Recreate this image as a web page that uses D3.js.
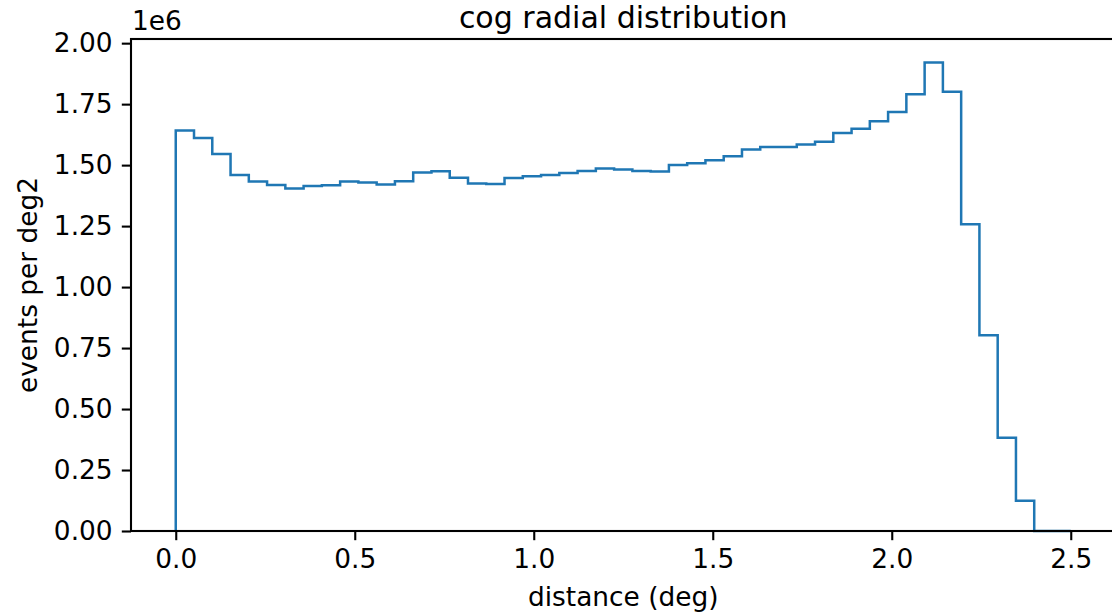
<!DOCTYPE html>
<html>
<head>
<meta charset="utf-8">
<script src="https://cdn.jsdelivr.net/npm/d3@7"></script>
<style>
  html, body { margin: 0; padding: 0; background: #fff; }
  svg { display: block; }
  text { font-family: "DejaVu Sans", sans-serif; fill: #000; }
</style>
</head>
<body>
<svg id="chart" width="1112" height="613"></svg>
<script>
// ---- data ----
const binRange = [0, 2.5];     // histogram range (deg)
const binCount = 49;           // number of bins
const counts = [
  1642000, 1611000, 1546000, 1459000, 1433000, 1418000, 1404000, 1414000, 1417000, 1433000,
  1429000, 1421000, 1434000, 1470000, 1475000, 1448000, 1425000, 1423000, 1447000, 1454000,
  1460000, 1468000, 1476000, 1486000, 1482000, 1476000, 1474000, 1500000, 1508000, 1520000,
  1536000, 1564000, 1574000, 1574000, 1585000, 1596000, 1632000, 1649000, 1680000, 1718000,
  1791000, 1921000, 1801000, 1258000, 803000, 382000, 124000, 0, 0
];
const xTicks = [0, 0.5, 1.0, 1.5, 2.0, 2.5];
const yTicks = [0, 250000, 500000, 750000, 1000000, 1250000, 1500000, 1750000, 2000000];
const titleText = "cog radial distribution";
const xLabelText = "distance (deg)";
const yLabelText = "events per deg2";
const offsetText = "1e6";

// ---- layout ----
const L = 131, R = 1115.5, T = 39, B = 531;
const FS = 26.4;      // 10pt
const tickLen = 9.2, tickPad = 9.2;

const svg = d3.select("#chart");

const edges = d3.range(binCount + 1).map(i => binRange[0] + (binRange[1] - binRange[0]) * i / binCount);
const xPad = (binRange[1] - binRange[0]) * 0.05;
const x = d3.scaleLinear().domain([binRange[0] - xPad, binRange[1] + xPad]).range([L, R]);
const yMax = d3.max(counts) * 1.05;
const y = d3.scaleLinear().domain([0, yMax]).range([B, T]);

// step outline
const pts = [[edges[0], 0]];
counts.forEach((c, i) => { pts.push([edges[i], c]); pts.push([edges[i + 1], c]); });
pts.push([edges[binCount], 0]);
svg.append("path")
  .attr("d", d3.line().x(d => x(d[0])).y(d => y(d[1]))(pts))
  .attr("fill", "none")
  .attr("stroke", "#1f77b4")
  .attr("stroke-width", 2.5)
  .attr("stroke-linejoin", "miter");

// axes
const xAxis = d3.axisBottom(x).tickValues(xTicks).tickFormat(d => d.toFixed(1))
  .tickSize(tickLen).tickSizeOuter(0).tickPadding(tickPad);
const gx = svg.append("g").attr("transform", `translate(0,${B})`).call(xAxis);
const yAxis = d3.axisLeft(y).tickValues(yTicks).tickFormat(d => (d / 1e6).toFixed(2))
  .tickSize(tickLen).tickSizeOuter(0).tickPadding(tickPad);
const gy = svg.append("g").attr("transform", `translate(${L},0)`).call(yAxis);
[gx, gy].forEach(g => {
  g.select(".domain").remove();
  g.selectAll(".tick line").attr("stroke", "#000").attr("stroke-width", 2.1);
  g.selectAll(".tick text").style("font-size", FS + "px").style("font-family", "DejaVu Sans").attr("fill", "#000");
});

// spines
svg.append("rect")
  .attr("x", L).attr("y", T).attr("width", R - L).attr("height", B - T)
  .attr("fill", "none").attr("stroke", "#000").attr("stroke-width", 2.1);

// texts
svg.append("text").attr("x", (L + R) / 2).attr("y", 28).attr("text-anchor", "middle")
  .style("font-size", "30px").text(titleText);
svg.append("text").attr("x", (L + R) / 2).attr("y", 606).attr("text-anchor", "middle")
  .style("font-size", FS + "px").text(xLabelText);
svg.append("text").attr("transform", `translate(37,${(T + B) / 2}) rotate(-90)`).attr("text-anchor", "middle")
  .style("font-size", FS + "px").text(yLabelText);
svg.append("text").attr("x", L + 1).attr("y", 30).attr("text-anchor", "start")
  .style("font-size", FS + "px").text(offsetText);
</script>
</body>
</html>
